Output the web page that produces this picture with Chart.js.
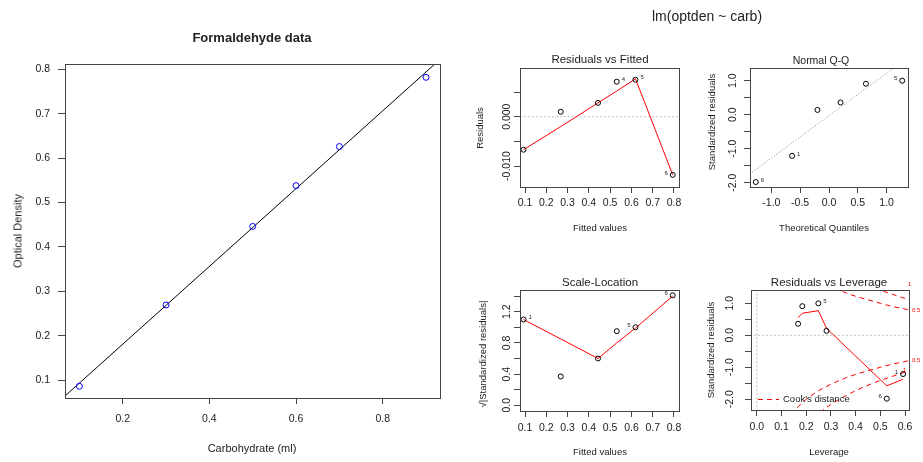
<!DOCTYPE html>
<html>
<head>
<meta charset="utf-8">
<script src="https://cdn.jsdelivr.net/npm/chart.js@4.4.1/dist/chart.umd.min.js"></script>
<style>
body { margin: 0; background: #fff; }
#wrap { position: relative; width: 923px; height: 462px; overflow: hidden; font-family: 'Liberation Sans', Arial, sans-serif; color: #222; }
canvas { position: absolute; left: 0; top: 0; }
.t { position: absolute; white-space: nowrap; line-height: 1; transform: translate(-50%, -50%); }
.r { transform: translate(-50%, -50%) rotate(-90deg); }
</style>
</head>
<body>
<div id="wrap">
  <canvas id="main" width="923" height="462"></canvas>
  <canvas id="rvf" width="923" height="462"></canvas>
  <canvas id="qq" width="923" height="462"></canvas>
  <canvas id="sl" width="923" height="462"></canvas>
  <canvas id="lev" width="923" height="462"></canvas>

  <div class="t" style="left:252px;top:37px;font-size:13px;font-weight:bold">Formaldehyde data</div>
  <div class="t" style="left:252px;top:448px;font-size:11px">Carbohydrate (ml)</div>
  <div class="t r" style="left:18px;top:231px;font-size:11px">Optical Density</div>
  <div class="t" style="left:707px;top:16px;font-size:14px">lm(optden ~ carb)</div>

  <div class="t" style="left:600px;top:60px;font-size:11.5px">Residuals vs Fitted</div>
  <div class="t r" style="left:480px;top:128px;font-size:9.5px">Residuals</div>
  <div class="t" style="left:600px;top:228px;font-size:9.5px">Fitted values</div>

  <div class="t" style="left:821px;top:60px;font-size:10.5px">Normal Q-Q</div>
  <div class="t r" style="left:712px;top:122px;font-size:9.5px">Standardized residuals</div>
  <div class="t" style="left:824px;top:228px;font-size:9.5px">Theoretical Quantiles</div>

  <div class="t" style="left:600px;top:283px;font-size:11.5px">Scale-Location</div>
  <div class="t r" style="left:483px;top:354px;font-size:9.5px">√|Standardized residuals|</div>
  <div class="t" style="left:600px;top:452px;font-size:9.5px">Fitted values</div>

  <div class="t" style="left:829px;top:283px;font-size:11.5px">Residuals vs Leverage</div>
  <div class="t r" style="left:711px;top:350px;font-size:9.5px">Standardized residuals</div>
  <div class="t" style="left:829px;top:452px;font-size:9.5px">Leverage</div>
</div>
<script>
const FONT = "'Liberation Sans', Arial, sans-serif";
const YW = 40;   // fixed y axis width
const XH = 30;   // fixed x axis height

// Formaldehyde data
const carb = [0.1, 0.3, 0.5, 0.6, 0.7, 0.9];
const optden = [0.086, 0.269, 0.446, 0.538, 0.626, 0.782];
const fitLineX = [0.06, 0.95];
const fitLineY = [0.058, 0.838];
const mainXTicks = [0.2, 0.4, 0.6, 0.8];
const mainXLabels = ['0.2', '0.4', '0.6', '0.8'];
const mainYTicks = [0.1, 0.2, 0.3, 0.4, 0.5, 0.6, 0.7, 0.8];
const mainYLabels = ['0.1', '0.2', '0.3', '0.4', '0.5', '0.6', '0.7', '0.8'];

// Residuals vs Fitted
const fitted = [0.093, 0.268, 0.443, 0.531, 0.619, 0.794];
const resid = [-0.0067, 0.0010, 0.0028, 0.0071, 0.0075, -0.0118];
const residSmooth = [-0.0067, -0.0020, 0.0028, 0.0052, 0.0077, -0.0118];
const rvfTags = ['', '', '', '4', '5', '6'];
const fittedTicks = [0.1, 0.2, 0.3, 0.4, 0.5, 0.6, 0.7, 0.8];
const fittedLabels = ['0.1', '0.2', '0.3', '0.4', '0.5', '0.6', '0.7', '0.8'];
const rvfYTicks = [-0.010, -0.005, 0.000, 0.005];
const rvfYLabels = ['-0.010', '', '0.000', ''];

// Normal Q-Q
const qqTheo = [-1.27, -0.64, -0.20, 0.20, 0.64, 1.27];
const qqStd = [-1.98, -1.21, 0.14, 0.36, 0.91, 1.00];
const qqTags = ['6', '1', '', '', '', '5'];
const qqLineX = [-1.5, 1.5];
const qqLineY = [-1.90, 1.84];
const qqXTicks = [-1.0, -0.5, 0.0, 0.5, 1.0];
const qqXLabels = ['-1.0', '-0.5', '0.0', '0.5', '1.0'];
const stdYTicks = [-2.0, -1.5, -1.0, -0.5, 0.0, 0.5, 1.0];
const stdYLabels = ['-2.0', '', '-1.0', '', '0.0', '', '1.0'];

// Scale-Location
const sqrtStd = [1.10, 0.37, 0.60, 0.95, 1.00, 1.41];
const slSmooth = [1.10, 0.85, 0.60, 0.80, 0.99, 1.40];
const slTags = ['1', '', '', '', '5', '6'];
const slYTicks = [0.0, 0.2, 0.4, 0.6, 0.8, 1.0, 1.2, 1.4];
const slYLabels = ['0.0', '', '0.4', '', '0.8', '', '1.2', ''];

// Residuals vs Leverage
const leverage = [0.592, 0.282, 0.167, 0.184, 0.249, 0.526];
const stdResid = [-1.21, 0.14, 0.36, 0.91, 1.00, -1.98];
const levTags = ['1', '', '', '', '5', '6'];
const levSmoothX = [0.167, 0.184, 0.249, 0.282, 0.526, 0.592];
const levSmoothY = [0.55, 0.69, 0.77, 0.22, -1.58, -1.37];
const cookLev = [0.14, 0.17, 0.2, 0.25, 0.3, 0.35, 0.4, 0.45, 0.5, 0.55, 0.6, 0.616];
const cookHalf = [2.48, 2.21, 2.0, 1.73, 1.53, 1.36, 1.22, 1.11, 1.0, 0.90, 0.82, 0.79];
const cookOne = [3.5, 3.12, 2.83, 2.45, 2.16, 1.93, 1.73, 1.56, 1.41, 1.28, 1.15, 1.12];
const levXTicks = [0.0, 0.1, 0.2, 0.3, 0.4, 0.5, 0.6];
const levXLabels = ['0.0', '0.1', '0.2', '0.3', '0.4', '0.5', '0.6'];

const pts = (xs, ys) => xs.map((x, i) => ({x: x, y: ys[i]}));
const blank = n => new Array(n).fill('');

function axis(min, max, ticks, labels, tl, pad, size) {
    return {
        type: 'linear', min: min, max: max,
        afterBuildTicks: s => { s.ticks = ticks.map(v => ({value: v})); },
        afterFit: s => { if (s.isHorizontal()) s.height = XH; else s.width = YW; },
        grid: {display: true, drawOnChartArea: false, drawTicks: true, tickLength: tl, color: '#444', lineWidth: 1},
        border: {display: false},
        ticks: {
            autoSkip: false, maxRotation: 0, minRotation: 0, padding: pad, color: '#222',
            font: {family: FONT, size: size},
            callback: (v, i) => labels[i]
        }
    };
}

function markers(xs, ys, color, r) {
    return {data: pts(xs, ys), showLine: false, pointRadius: r, pointBorderColor: color,
        pointBackgroundColor: 'rgba(0,0,0,0)', pointBorderWidth: 1, borderColor: color};
}

function line(xs, ys, color, dash, smooth) {
    let ds = {data: pts(xs, ys), showLine: true, pointRadius: 0, borderColor: color,
        borderWidth: 1, borderDash: dash || [], fill: false, tension: 0};
    if (smooth) ds.cubicInterpolationMode = 'monotone';
    return ds;
}

const decor = {};

const rPlot = {
    id: 'rPlot',
    afterDatasetsDraw(chart) {
        const d = decor[chart.canvas.id] || {};
        const ctx = chart.ctx, a = chart.chartArea;
        ctx.save();
        ctx.strokeStyle = '#444';
        ctx.lineWidth = 1;
        ctx.strokeRect(Math.round(a.left) + 0.5, Math.round(a.top) + 0.5,
            Math.round(a.right - a.left), Math.round(a.bottom - a.top));

        // y tick labels written along the axis, as R does
        if (d.yRot) {
            const ys = chart.scales.y;
            ctx.fillStyle = '#222';
            ctx.font = '10.5px ' + FONT;
            ctx.textAlign = 'center';
            ctx.textBaseline = 'middle';
            d.yRot.ticks.forEach((v, i) => {
                if (!d.yRot.labels[i]) return;
                ctx.save();
                ctx.translate(d.yRot.x, ys.getPixelForValue(v));
                ctx.rotate(-Math.PI / 2);
                ctx.fillText(d.yRot.labels[i], 0, 0);
                ctx.restore();
            });
        }

        // observation numbers next to points
        if (d.tags) {
            const meta = chart.getDatasetMeta(d.tags.ds);
            ctx.fillStyle = '#222';
            ctx.font = '6px ' + FONT;
            ctx.textBaseline = 'middle';
            d.tags.texts.forEach((t, i) => {
                if (!t) return;
                const el = meta.data[i];
                const right = d.tags.side[i] > 0;
                ctx.textAlign = right ? 'left' : 'right';
                ctx.fillText(t, el.x + (right ? 5 : -5), el.y - 2);
            });
        }

        if (d.draw) d.draw(chart, ctx);
        ctx.restore();
    }
};

// box = [left, top, right, bottom] of the plot frame in page pixels
function panel(id, box, xs, ys, datasets, extra) {
    decor[id] = extra;
    new Chart(document.getElementById(id), {
        type: 'scatter',
        data: {datasets: datasets},
        options: {
            responsive: false,
            animation: false,
            events: [],
            layout: {padding: {left: box[0] - YW, top: box[1], right: 923 - box[2], bottom: 462 - box[3] - XH}},
            plugins: {legend: {display: false}, tooltip: {enabled: false}},
            scales: {x: xs, y: ys}
        },
        plugins: [rPlot]
    });
}

// left: data with fitted line
panel('main', [65, 64, 440, 398],
    axis(0.0668, 0.9322, mainXTicks, mainXLabels, 6, 9, 10.5),
    axis(0.0595, 0.812, mainYTicks, mainYLabels, 7, 8, 10.5),
    [
        markers(carb, optden, '#0000ff', 3),
        line(fitLineX, fitLineY, '#000000')
    ], {});

panel('rvf', [520, 68, 679, 187],
    axis(0.0765, 0.8235, fittedTicks, fittedLabels, 6, 4, 10.5),
    axis(-0.01426, 0.00988, rvfYTicks, blank(rvfYTicks.length), 6, 0, 10.5),
    [
        markers(fitted, resid, '#000000', 2.5),
        line(fitted, residSmooth, '#ff0000'),
        line([0, 1], [0, 0], '#bbbbbb', [2, 2])
    ],
    {yRot: {x: 507.5, ticks: rvfYTicks, labels: rvfYLabels},
     tags: {ds: 0, texts: rvfTags, side: [0, 0, 0, 1, 1, -1]}});

panel('qq', [750, 68, 908, 187],
    axis(-1.37, 1.37, qqXTicks, qqXLabels, 6, 4, 10.5),
    axis(-2.126, 1.373, stdYTicks, blank(stdYTicks.length), 6, 0, 10.5),
    [
        markers(qqTheo, qqStd, '#000000', 2.5),
        line(qqLineX, qqLineY, '#888888', [1, 2])
    ],
    {yRot: {x: 733.5, ticks: stdYTicks, labels: stdYLabels},
     tags: {ds: 0, texts: qqTags, side: [1, 1, 0, 0, 0, -1]}});

panel('sl', [520, 290, 679, 411],
    axis(0.0765, 0.8235, fittedTicks, fittedLabels, 6, 4.5, 10.5),
    axis(-0.073, 1.478, slYTicks, blank(slYTicks.length), 6, 0, 10.5),
    [
        markers(fitted, sqrtStd, '#000000', 2.5),
        line(fitted, slSmooth, '#ff0000')
    ],
    {yRot: {x: 507.5, ticks: slYTicks, labels: slYLabels},
     tags: {ds: 0, texts: slTags, side: [1, 0, 0, 0, -1, -1]}});

panel('lev', [751, 290, 909, 410],
    axis(-0.0237, 0.616, levXTicks, levXLabels, 6, 4.5, 10.5),
    axis(-2.334, 1.416, stdYTicks, blank(stdYTicks.length), 6, 0, 10.5),
    [
        markers(leverage, stdResid, '#000000', 2.5),
        line(levSmoothX, levSmoothY, '#ff0000'),
        line(cookLev, cookHalf, '#ff0000', [5, 4], true),
        line(cookLev, cookOne, '#ff0000', [5, 4], true),
        line(cookLev, cookHalf.map(v => -v), '#ff0000', [5, 4], true),
        line(cookLev, cookOne.map(v => -v), '#ff0000', [5, 4], true),
        line([-1, 1], [0, 0], '#bbbbbb', [2, 2]),
        line([0, 0], [-3, 3], '#bbbbbb', [2, 2])
    ],
    {tags: {ds: 0, texts: levTags, side: [-1, 0, 0, 0, 1, -1]},
     yRot: {x: 730.5, ticks: stdYTicks, labels: stdYLabels},
     draw: (chart, ctx) => {
         const a = chart.chartArea, ys = chart.scales.y;
         // Cook's distance legend
         const ly = Math.round(a.bottom - 11) + 0.5;
         ctx.strokeStyle = '#ff0000';
         ctx.setLineDash([5, 4]);
         ctx.beginPath();
         ctx.moveTo(a.left + 7, ly);
         ctx.lineTo(a.left + 28, ly);
         ctx.stroke();
         ctx.setLineDash([]);
         ctx.fillStyle = '#222';
         ctx.font = '9.5px ' + FONT;
         ctx.textAlign = 'left';
         ctx.textBaseline = 'middle';
         ctx.fillText("Cook's distance", a.left + 32, ly);
         // contour level tags
         ctx.fillStyle = '#ff0000';
         ctx.font = '6px ' + FONT;
         const last = cookLev.length - 1;
         ctx.fillText('0.5', a.right + 3, ys.getPixelForValue(cookHalf[last]));
         ctx.fillText('0.5', a.right + 3, ys.getPixelForValue(-cookHalf[last]));
         ctx.fillText('1', a.right - 1, ys.getPixelForValue(1.58));
         ctx.fillText('1', a.right - 6, ys.getPixelForValue(-1.08));
     }});
</script>
</body>
</html>
